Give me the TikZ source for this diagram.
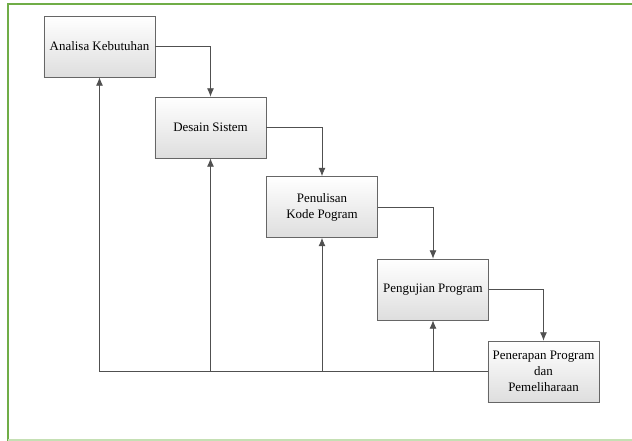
\documentclass[tikz,border=0pt]{standalone}
\usepackage{fontspec}
\setmainfont{Liberation Serif}
\newfontfamily\tahapfont{Liberation Serif}
\usepackage{tikz}
\usetikzlibrary{arrows.meta,positioning}
\definecolor{framegreen}{RGB}{112,173,71}
\definecolor{lightgreen}{RGB}{197,224,180}
\definecolor{linegray}{RGB}{80,80,80}
\tikzset{
  >={Latex[length=6pt,width=5pt]},
  tahap/.style={rectangle, draw=black!60, top color=white, bottom color=black!13,
                minimum width=2.775cm, minimum height=1.525cm, align=center,
                font=\tahapfont\fontsize{9.2}{11.5}\selectfont},
  alur/.style={draw=linegray, semithick, ->},
}

\begin{document}
\begin{tikzpicture}[x=0.025cm,y=-0.025cm]
\useasboundingbox (0,0) rectangle (632,441);
% bingkai
\draw[framegreen, line width=2pt] (8,441) -- (8,4) -- (632,4);
\draw[lightgreen, line width=1pt] (8,440) -- (632,440);
% tahapan
\node[tahap] (analisa) at (99.5,46.5) {Analisa Kebutuhan};
\node[tahap] (desain) at (210.5,127.5) {Desain Sistem};
\node[tahap] (kode) at (322,207) {Penulisan\\Kode Pogram};
\node[tahap] (uji) at (433,289.5) {Pengujian Program};
\node[tahap] (terap) at (543.5,371.5) {Penerapan Program\\dan\\Pemeliharaan};
% alur maju
\draw[alur] (analisa.east) -| (desain.north);
\draw[alur] (desain.east) -| (kode.north);
\draw[alur] (kode.east) -| (uji.north);
\draw[alur] (uji.east) -| (terap.north);
% alur balik
\draw[alur] (terap.west) -| (analisa.south);
\draw[alur] (desain.south |- terap.west) -- (desain.south);
\draw[alur] (kode.south |- terap.west) -- (kode.south);
\draw[alur] (uji.south |- terap.west) -- (uji.south);
\end{tikzpicture}
\end{document}
